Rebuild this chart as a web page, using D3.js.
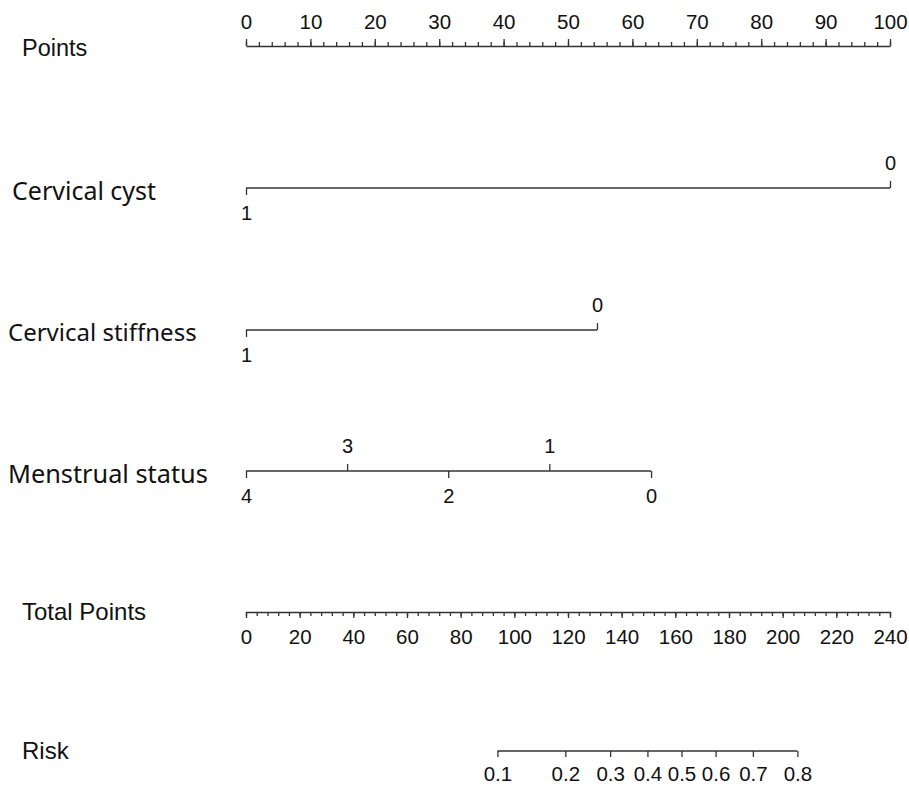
<!DOCTYPE html>
<html>
<head>
<meta charset="utf-8">
<script src="https://cdn.jsdelivr.net/npm/d3@7"></script>
<style>
  body { margin: 0; background: #fff; overflow: hidden; }
  svg { display: block; }
  .axis path, .axis line { stroke: #333; stroke-width: 1.3; }
  .axis text { font-family: "Liberation Sans", Arial, sans-serif; font-size: 20.5px; fill: #111; }
  .cat text { font-size: 20px; }
  .lab { font-family: "Liberation Sans", Arial, sans-serif; fill: #111; }
  .lab2 { font-family: "Noto Sans", sans-serif; fill: #111; }
</style>
</head>
<body>
<div id="graph"></div>
<script>
// data
var pointTicks = [0, 10, 20, 30, 40, 50, 60, 70, 80, 90, 100];
var totalTicks = [0, 20, 40, 60, 80, 100, 120, 140, 160, 180, 200, 220, 240];

var cystLevels = ["0", "1"];
var cystPoints = [100, 0];
var cystUp = ["0"];

var stiffLevels = ["0", "1"];
var stiffPoints = [54.5, 0];
var stiffUp = ["0"];

var mensLevels = ["0", "1", "2", "3", "4"];
var mensPoints = [62.9, 47.1, 31.4, 15.7, 0];
var mensUp = ["1", "3"];

var riskTicks = [0.1, 0.2, 0.3, 0.4, 0.5, 0.6, 0.7, 0.8];
var riskTotals = [93.7, 119.0, 135.7, 149.6, 162.3, 175.0, 188.9, 205.5];

var W = 909, H = 786;
var svg = d3.select("#graph").append("svg").attr("width", W).attr("height", H);

var x = d3.scaleLinear().domain([0, 100]).range([246, 890]);
var xt = d3.scaleLinear().domain([0, 240]).range([246, 890]);

function label(text, xx, yy, cls, size) {
  svg.append("text").attr("class", cls).attr("x", xx).attr("y", yy)
    .attr("dy", "0.35em").style("font-size", size + "px").text(text);
}

// Points
var yP = 46;
svg.append("g").attr("class", "axis").attr("transform", "translate(0," + yP + ")")
  .call(d3.axisTop(x).tickValues(d3.range(0, 101, 2)).tickSize(4).tickFormat(""))
  .call(g => g.select(".domain").remove());
svg.append("g").attr("class", "axis").attr("transform", "translate(0," + yP + ")")
  .call(d3.axisTop(x).tickValues(pointTicks).tickSize(7).tickSizeOuter(0).tickPadding(10));
label("Points", 22, 48, "lab", 23.5);

// categorical rows
function catRow(levels, pts, up, yy, name, nameX, nameSize) {
  var s = d3.scaleLinear().domain([0, 100]).range([246, 890]);
  var valOf = {};
  levels.forEach((l, i) => valOf[l] = pts[i]);
  var ext = d3.extent(pts);
  svg.append("line").attr("x1", s(ext[0])).attr("x2", s(ext[1]))
    .attr("y1", yy).attr("y2", yy).attr("stroke", "#333").attr("stroke-width", 1.3);
  var upL = levels.filter(l => up.indexOf(l) >= 0);
  var dnL = levels.filter(l => up.indexOf(l) < 0);
  var gU = svg.append("g").attr("class", "axis cat").attr("transform", "translate(0," + yy + ")")
    .call(d3.axisTop(s).tickValues(upL.map(l => valOf[l])).tickSize(7).tickPadding(11)
      .tickFormat((d, i) => upL[i]));
  gU.select(".domain").remove();
  var gD = svg.append("g").attr("class", "axis cat").attr("transform", "translate(0," + yy + ")")
    .call(d3.axisBottom(s).tickValues(dnL.map(l => valOf[l])).tickSize(7).tickPadding(11)
      .tickFormat((d, i) => dnL[i]));
  gD.select(".domain").remove();
  label(name, nameX, yy + 3, "lab2", nameSize);
}

catRow(cystLevels, cystPoints, cystUp, 188, "Cervical cyst", 12, 25);
catRow(stiffLevels, stiffPoints, stiffUp, 330, "Cervical stiffness", 8, 24);
catRow(mensLevels, mensPoints, mensUp, 471, "Menstrual status", 8, 25.3);

// Total points
var yT = 612;
svg.append("g").attr("class", "axis").attr("transform", "translate(0," + yT + ")")
  .call(d3.axisBottom(xt).tickValues(d3.range(0, 241, 4)).tickSize(4).tickFormat(""))
  .call(g => g.select(".domain").remove());
svg.append("g").attr("class", "axis").attr("transform", "translate(0," + yT + ")")
  .call(d3.axisBottom(xt).tickValues(totalTicks).tickSize(6).tickSizeOuter(0).tickPadding(11));
label("Total Points", 22, yT, "lab", 24);

// Risk
var yR = 751;
var riskPos = riskTicks.map((r, i) => xt(riskTotals[i]));
var xr = d3.scaleOrdinal().domain(riskTicks).range(riskPos);
svg.append("line").attr("x1", riskPos[0]).attr("x2", riskPos[riskPos.length - 1])
  .attr("y1", yR).attr("y2", yR).attr("stroke", "#333").attr("stroke-width", 1.3);
var gR = svg.append("g").attr("class", "axis").attr("transform", "translate(0," + yR + ")")
  .call(d3.axisBottom(xr).tickSize(6).tickPadding(9).tickFormat(d3.format(".1f")));
gR.select(".domain").remove();
label("Risk", 22, yR, "lab", 24);
</script>
</body>
</html>
